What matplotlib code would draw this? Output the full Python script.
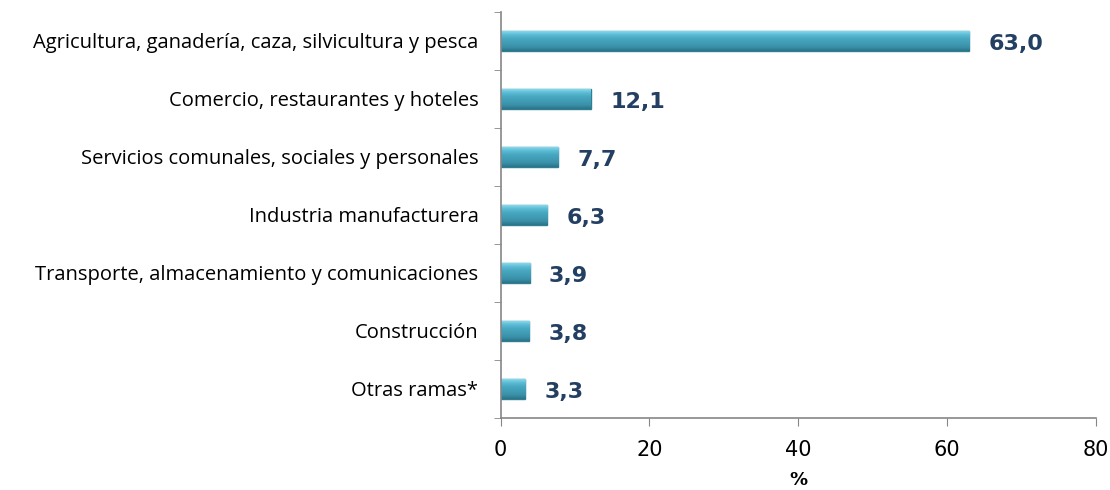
import numpy as np
import matplotlib.pyplot as plt
from matplotlib.colors import LinearSegmentedColormap

# data
categories = [
    "Agricultura, ganadería, caza, silvicultura y pesca",
    "Comercio, restaurantes y hoteles",
    "Servicios comunales, sociales y personales",
    "Industria manufacturera",
    "Transporte, almacenamiento y comunicaciones",
    "Construcción",
    "Otras ramas*",
]
values = [63.0, 12.1, 7.7, 6.3, 3.9, 3.8, 3.3]
value_labels = ["63,0", "12,1", "7,7", "6,3", "3,9", "3,8", "3,3"]
x_ticks = [0, 20, 40, 60, 80]

plt.rcParams['font.family'] = ['Open Sans', 'DejaVu Sans']

fig = plt.figure(figsize=(11.1, 4.9), dpi=100)
ax = fig.add_axes([0.451, 0.147, 0.536, 0.829])

ypos = np.arange(len(categories))[::-1]
bars = ax.barh(ypos, values, height=0.34, color="#4bacc6",
               edgecolor="#2f7f93", linewidth=1.0, zorder=2)

# vertical gradient on each bar, a rough take on the bevel look
cmap = LinearSegmentedColormap.from_list(
    "bevel", [(0, "#2c7286"), (0.2, "#3a91a9"), (0.6, "#47a6bf"),
              (0.82, "#5bbbd4"), (1, "#86d9ec")])
grad = np.linspace(0, 1, 100).reshape(-1, 1)
for b in bars:
    x0, y0 = b.get_x(), b.get_y()
    w, h = b.get_width(), b.get_height()
    im = ax.imshow(grad, cmap=cmap, aspect="auto", origin="lower",
                   extent=(x0, x0 + w, y0, y0 + h), zorder=2.5,
                   interpolation="bilinear")
    im.set_clip_path(b)

for y, v, lab in zip(ypos, values, value_labels):
    ax.annotate(lab, xy=(v, y), xytext=(14, -2), textcoords="offset points",
                ha="left", va="center", fontsize=16, fontweight="bold",
                color="#233f62", family="DejaVu Sans")

ax.set_xlim(0, 80)
ax.set_ylim(-0.5, len(categories) - 0.5)
ax.set_xticks(x_ticks)
ax.set_xticklabels([str(t) for t in x_ticks], fontsize=15, family="DejaVu Sans")
ax.set_yticks(ypos)
ax.set_yticklabels(categories, fontsize=14.5)
ax.set_yticks(np.arange(-0.5, len(categories), 1.0), minor=True)
ax.tick_params(axis="y", which="major", length=0, pad=16)
ax.tick_params(axis="y", which="minor", length=5, color="#868686", direction="out")
ax.tick_params(axis="x", length=6, color="#868686", pad=10)
ax.set_xlabel("%", fontsize=13, fontweight="bold", labelpad=8, family="DejaVu Sans")

for side in ["top", "right"]:
    ax.spines[side].set_visible(False)
for side in ["left", "bottom"]:
    ax.spines[side].set_color("#868686")
    ax.spines[side].set_linewidth(1.2)

fig.savefig("out.png", dpi=100)
